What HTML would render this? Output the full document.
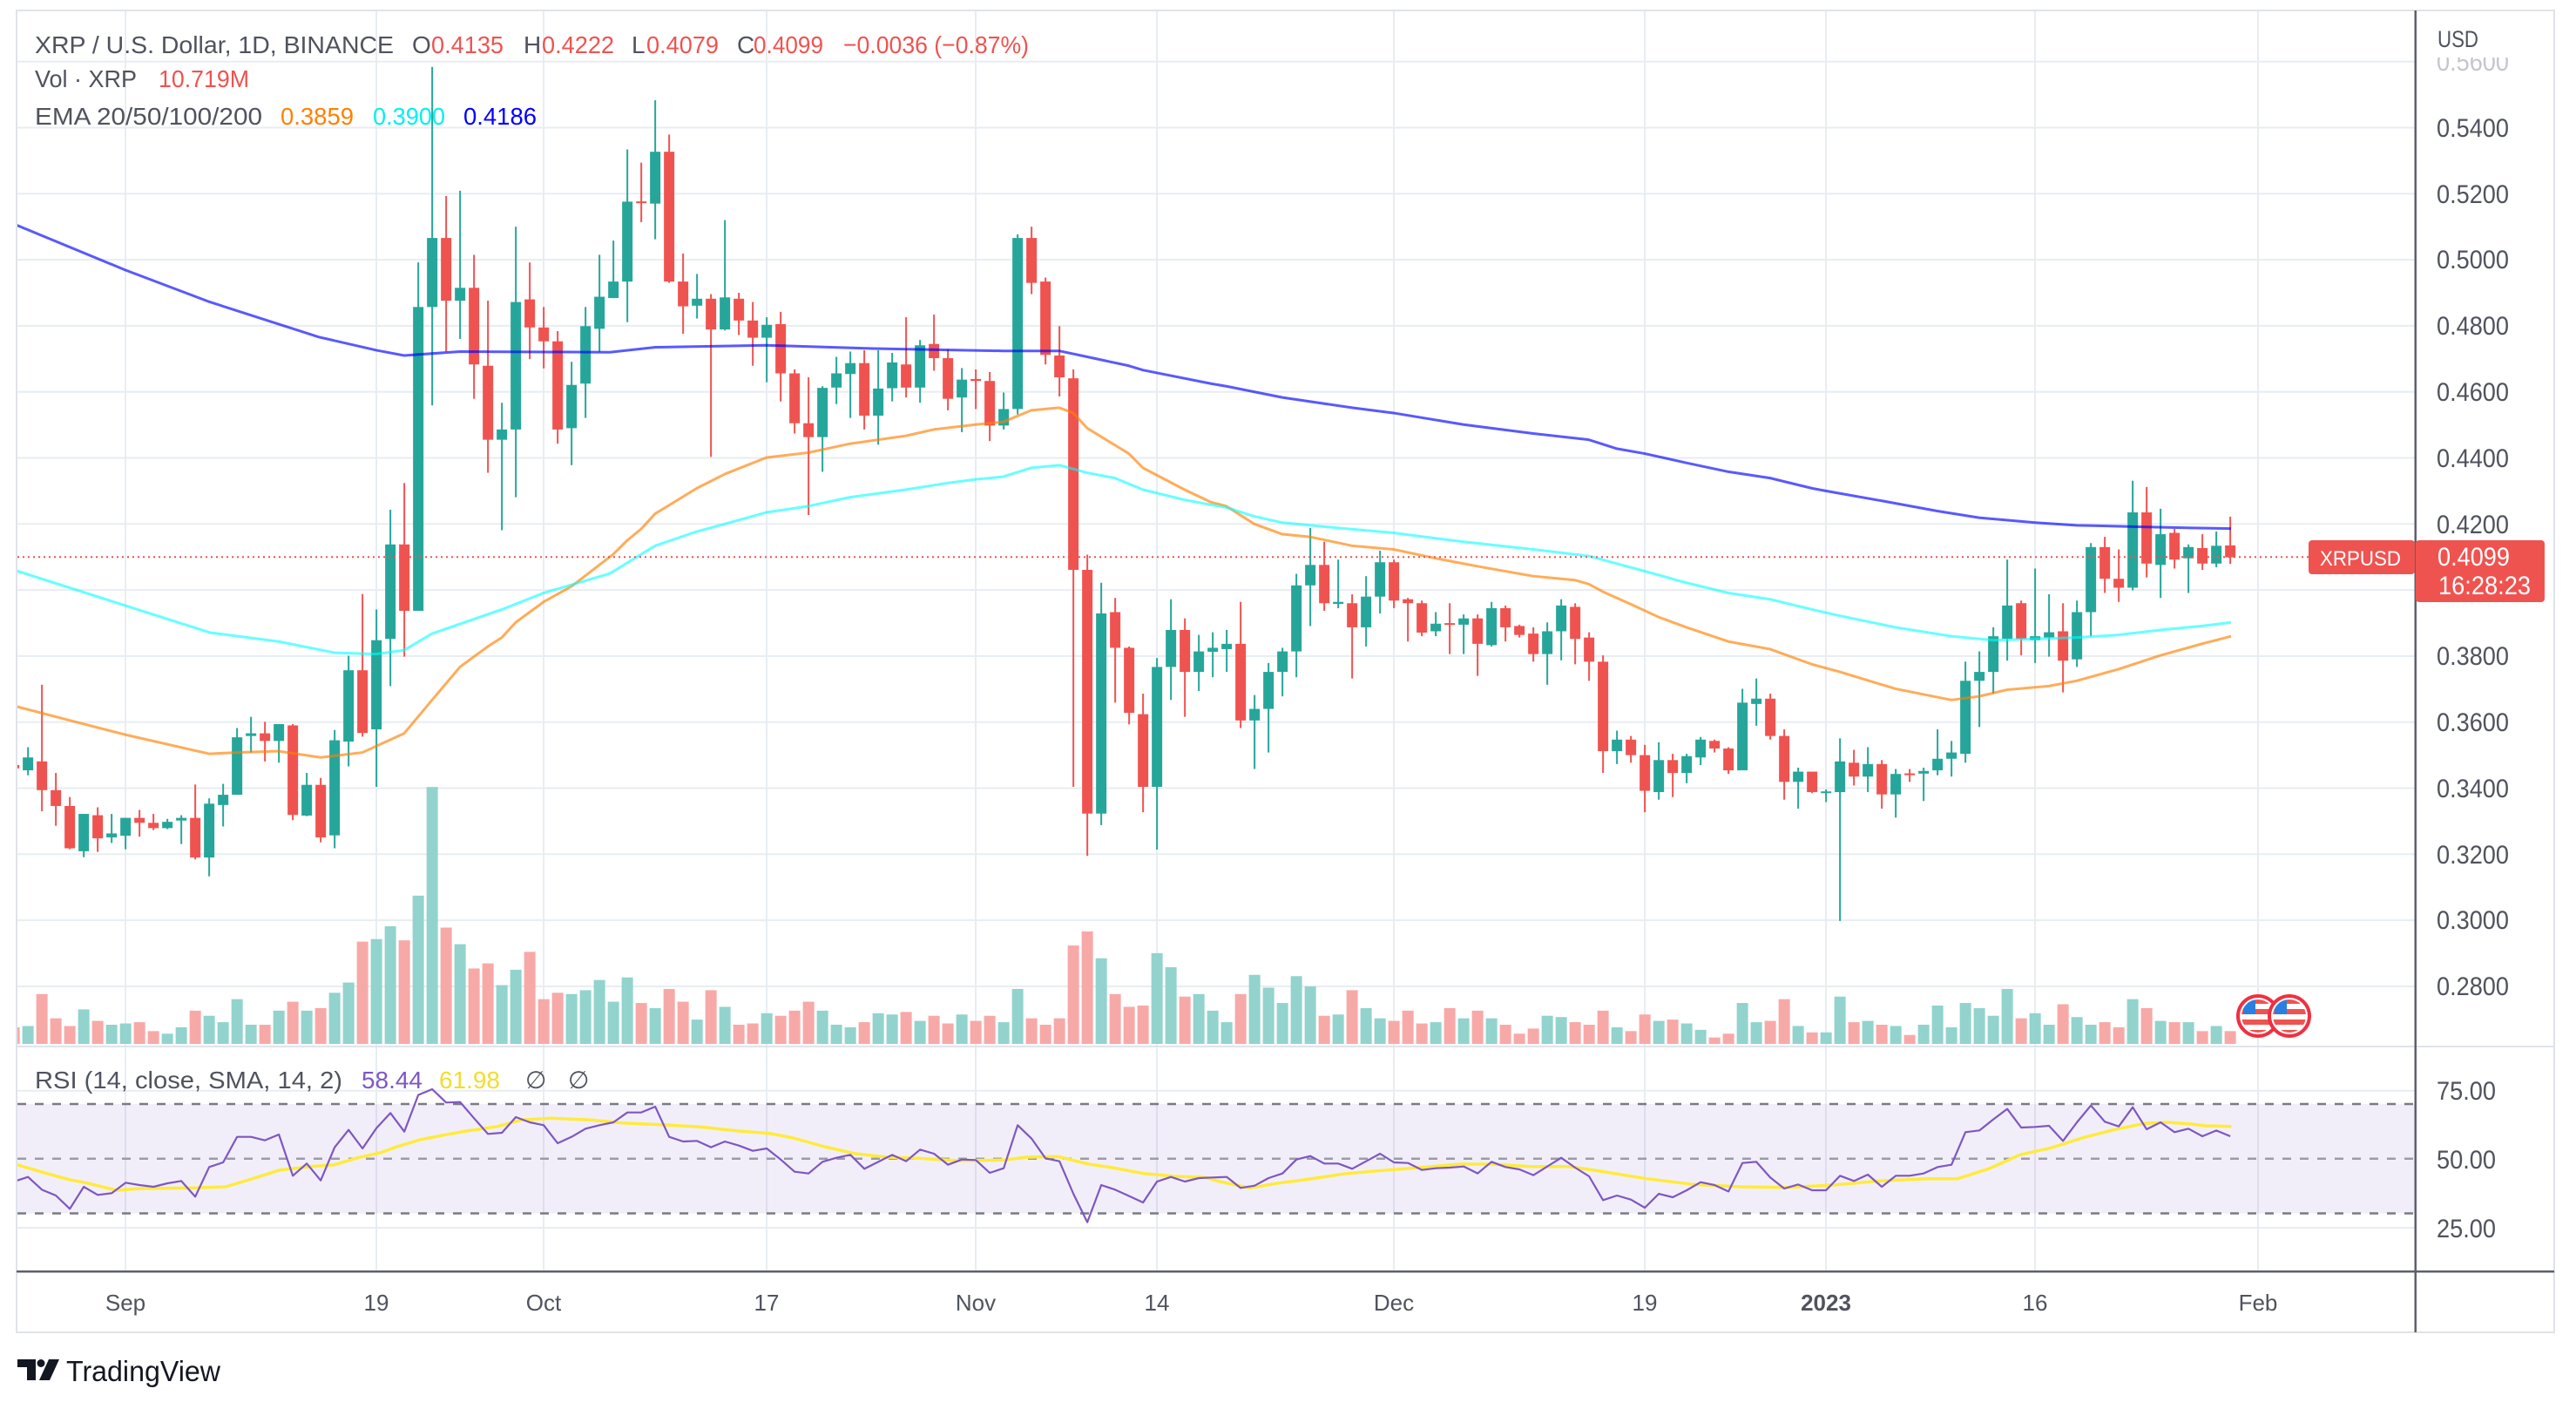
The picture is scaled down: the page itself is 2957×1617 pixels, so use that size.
<!DOCTYPE html>
<html><head><meta charset="utf-8"><style>
html,body{margin:0;padding:0;background:#fff;width:2957px;height:1617px;overflow:hidden}
svg{display:block}
text{font-family:"Liberation Sans",Arial,sans-serif}
</style></head><body>
<svg id="s" xmlns="http://www.w3.org/2000/svg" width="2957" height="1617" viewBox="0 0 2957 1617">
<defs>
<clipPath id="cp"><rect x="20" y="13" width="2752" height="1187"/></clipPath>
<clipPath id="cr"><rect x="20" y="1202" width="2752" height="256"/></clipPath>
<clipPath id="f1"><circle cx="2592" cy="1166" r="19"/></clipPath>
<clipPath id="f2"><circle cx="2628" cy="1166" r="19"/></clipPath>
<clipPath id="ctop"><rect x="2780" y="66" width="150" height="28"/></clipPath>
</defs>
<rect width="2957" height="1617" fill="#fff"/>
<g id="grid"></g>
<rect x="20" y="1267" width="2752" height="125.5" fill="#7e57c2" fill-opacity="0.1"/>
<g id="vol" clip-path="url(#cp)"></g>
<g id="cand" clip-path="url(#cp)"></g>
<g id="ema" clip-path="url(#cp)" fill="none" stroke-width="3" stroke-linejoin="round"></g>
<g id="rsi" clip-path="url(#cr)" fill="none" stroke-linejoin="round"></g>
<g id="frame"></g>

<!-- flags -->
<g>
<circle cx="2592" cy="1166" r="23" fill="#fff" stroke="#f0303f" stroke-width="4"/>
<g clip-path="url(#f1)"><rect x="2570" y="1144" width="44" height="44" fill="#fff"/><rect x="2570" y="1158" width="44" height="6" fill="#ef5350"/><rect x="2570" y="1170" width="44" height="6" fill="#ef5350"/><rect x="2570" y="1146" width="44" height="6" fill="#ef5350"/><rect x="2570" y="1182" width="44" height="6" fill="#ef5350"/><rect x="2575" y="1146" width="14" height="18" fill="#2a7fe0"/></g>
<circle cx="2628" cy="1166" r="23" fill="#fff" stroke="#f0303f" stroke-width="4"/>
<g clip-path="url(#f2)"><rect x="2606" y="1144" width="44" height="44" fill="#fff"/><rect x="2606" y="1158" width="44" height="6" fill="#ef5350"/><rect x="2606" y="1170" width="44" height="6" fill="#ef5350"/><rect x="2606" y="1146" width="44" height="6" fill="#ef5350"/><rect x="2606" y="1182" width="44" height="6" fill="#ef5350"/><rect x="2611" y="1146" width="14" height="18" fill="#2a7fe0"/></g>
</g>

<!-- price line labels -->
<rect x="2650" y="620" width="122" height="39" rx="4" fill="#ef5350"/>
<rect x="2773" y="620" width="148" height="71" rx="4" fill="#ef5350"/>
<text x="2663" y="649" font-size="24" fill="#fff" textLength="93" lengthAdjust="spacingAndGlyphs">XRPUSD</text>
<text x="2798" y="649" font-size="30" fill="#fff" textLength="83" lengthAdjust="spacingAndGlyphs">0.4099</text>
<text x="2799" y="682" font-size="30" fill="#fff" textLength="106" lengthAdjust="spacingAndGlyphs">16:28:23</text>

<!-- header legend -->
<g font-size="28">
<text x="40" y="61" fill="#50535e" textLength="412" lengthAdjust="spacingAndGlyphs">XRP / U.S. Dollar, 1D, BINANCE</text>
<text x="473" y="61" fill="#50535e">O</text>
<text x="495" y="61" fill="#ef5350" textLength="83" lengthAdjust="spacingAndGlyphs">0.4135</text>
<text x="601" y="61" fill="#50535e">H</text>
<text x="622" y="61" fill="#ef5350" textLength="83" lengthAdjust="spacingAndGlyphs">0.4222</text>
<text x="725" y="61" fill="#50535e">L</text>
<text x="742" y="61" fill="#ef5350" textLength="83" lengthAdjust="spacingAndGlyphs">0.4079</text>
<text x="846" y="61" fill="#50535e">C</text>
<text x="865" y="61" fill="#ef5350" textLength="80" lengthAdjust="spacingAndGlyphs">0.4099</text>
<text x="968" y="61" fill="#ef5350" textLength="213" lengthAdjust="spacingAndGlyphs">−0.0036 (−0.87%)</text>
<text x="40" y="100" fill="#50535e" textLength="117" lengthAdjust="spacingAndGlyphs">Vol · XRP</text>
<text x="182" y="100" fill="#ef5350" textLength="104" lengthAdjust="spacingAndGlyphs">10.719M</text>
<text x="40" y="143" fill="#50535e" textLength="261" lengthAdjust="spacingAndGlyphs">EMA 20/50/100/200</text>
<text x="322" y="143" fill="#ff8000" textLength="84" lengthAdjust="spacingAndGlyphs">0.3859</text>
<text x="428" y="143" fill="#00f0f0" textLength="83" lengthAdjust="spacingAndGlyphs">0.3900</text>
<text x="532" y="143" fill="#0000ff" textLength="84" lengthAdjust="spacingAndGlyphs">0.4186</text>
<text x="40" y="1249" fill="#50535e" textLength="353" lengthAdjust="spacingAndGlyphs">RSI (14, close, SMA, 14, 2)</text>
<text x="415" y="1249" fill="#7e57c2" textLength="70" lengthAdjust="spacingAndGlyphs">58.44</text>
<text x="504" y="1249" fill="#f2dc2e" textLength="70" lengthAdjust="spacingAndGlyphs">61.98</text>
<text x="603" y="1249" fill="#50535e">∅</text>
<text x="652" y="1249" fill="#50535e">∅</text>
</g>

<!-- price axis -->
<g font-size="30" fill="#50535e">
<text x="2798" y="54" font-size="27" textLength="47" lengthAdjust="spacingAndGlyphs">USD</text>
<g clip-path="url(#ctop)"><text x="2797" y="81" fill="#c4c6cc" textLength="83" lengthAdjust="spacingAndGlyphs">0.5600</text></g>
<text x="2797" y="157" textLength="83" lengthAdjust="spacingAndGlyphs">0.5400</text>
<text x="2797" y="233" textLength="83" lengthAdjust="spacingAndGlyphs">0.5200</text>
<text x="2797" y="308" textLength="83" lengthAdjust="spacingAndGlyphs">0.5000</text>
<text x="2797" y="384" textLength="83" lengthAdjust="spacingAndGlyphs">0.4800</text>
<text x="2797" y="460" textLength="83" lengthAdjust="spacingAndGlyphs">0.4600</text>
<text x="2797" y="536" textLength="83" lengthAdjust="spacingAndGlyphs">0.4400</text>
<text x="2797" y="612" textLength="83" lengthAdjust="spacingAndGlyphs">0.4200</text>
<text x="2797" y="763" textLength="83" lengthAdjust="spacingAndGlyphs">0.3800</text>
<text x="2797" y="839" textLength="83" lengthAdjust="spacingAndGlyphs">0.3600</text>
<text x="2797" y="915" textLength="83" lengthAdjust="spacingAndGlyphs">0.3400</text>
<text x="2797" y="991" textLength="83" lengthAdjust="spacingAndGlyphs">0.3200</text>
<text x="2797" y="1066" textLength="83" lengthAdjust="spacingAndGlyphs">0.3000</text>
<text x="2797" y="1142" textLength="83" lengthAdjust="spacingAndGlyphs">0.2800</text>
<text x="2797" y="1262" textLength="68" lengthAdjust="spacingAndGlyphs">75.00</text>
<text x="2797" y="1341" textLength="68" lengthAdjust="spacingAndGlyphs">50.00</text>
<text x="2797" y="1420" textLength="68" lengthAdjust="spacingAndGlyphs">25.00</text>
</g>

<!-- time axis -->
<g font-size="26" fill="#50535e" text-anchor="middle">
<text x="144" y="1504">Sep</text>
<text x="432" y="1504">19</text>
<text x="624" y="1504">Oct</text>
<text x="880" y="1504">17</text>
<text x="1120" y="1504">Nov</text>
<text x="1328" y="1504">14</text>
<text x="1600" y="1504">Dec</text>
<text x="1888" y="1504">19</text>
<text x="2096" y="1504" font-weight="bold">2023</text>
<text x="2336" y="1504">16</text>
<text x="2592" y="1504">Feb</text>
</g>

<!-- logo -->
<g fill="#131722">
<path d="M20 1560 H41 V1584 H31 V1569 H20 Z"/>
<circle cx="47" cy="1564.5" r="4.5"/>
<path d="M56 1560 H68 L57 1584 H45 Z"/>
<text x="76" y="1585" font-size="33" textLength="177" lengthAdjust="spacingAndGlyphs">TradingView</text>
</g>
</svg>
<script>
(function(){
var NS='http://www.w3.org/2000/svg';
function el(t,a,p){var e=document.createElementNS(NS,t);for(var k in a)e.setAttribute(k,a[k]);p.appendChild(e);return e;}
function cx(i){return 32.14+(i-1)*16;}
function py(p){return 146.5+(0.54-p)*3790;}
var G='#26a69a',R='#ef5350';
var gGrid=document.getElementById('grid'),gVol=document.getElementById('vol'),gC=document.getElementById('cand'),gE=document.getElementById('ema'),gR=document.getElementById('rsi'),gF=document.getElementById('frame');
for(var k=0;k<=14;k++){var y=py(0.56-0.02*k);el('rect',{x:20,y:y-1,width:2752,height:2,fill:'#e8edf2'},gGrid);}
[144,432,624,880,1120,1328,1600,1888,2096,2336,2592].forEach(function(x){el('rect',{x:x-1,y:13,width:2,height:1445,fill:'#e8edf2'},gGrid);});
el('rect',{x:20,y:1250.7,width:2752,height:2,fill:'#e8edf2'},gGrid);
el('rect',{x:20,y:1408,width:2752,height:2,fill:'#e8edf2'},gGrid);
var C=[[.347,.3475,.345,.346],[.3454,.3524,.3439,.3493],[.3481,.3713,.333,.3394],[.3394,.3446,.3286,.3346],[.3346,.3373,.3215,.3218],[.3209,.3322,.3191,.3322],[.3318,.3342,.3207,.3248],[.3251,.3322,.3234,.3263],[.3256,.3310,.3215,.3310],[.3310,.3334,.3253,.3295],
[.3295,.3322,.3273,.3279],[.3279,.3307,.3276,.3298],[.3302,.3318,.3231,.3310],[.3310,.3411,.3184,.3190],[.3190,.3369,.3133,.3353],[.3349,.3413,.3284,.3380],[.3380,.3582,.3380,.3554],[.3558,.3616,.3508,.3566],[.3566,.3601,.3481,.3543],[.3543,.3594,.3477,.3594],
[.3590,.3594,.3303,.3319],[.3317,.3446,.3315,.3410],[.3410,.3431,.3236,.3251],[.3257,.3576,.3218,.3545],[.3541,.3801,.3466,.3757],[.3757,.3988,.3556,.3567],[.3578,.3941,.3404,.3848],[.3852,.4243,.3709,.4138],[.4138,.4324,.3798,.3937],[.3937,.4992,.3937,.4857],
[.4857,.5584,.4559,.5066],[.5066,.5193,.4722,.4876],[.4876,.5209,.4760,.4915],[.4915,.5015,.4579,.4683],[.4679,.4876,.4355,.4455],[.4455,.4567,.4181,.4486],[.4486,.5100,.4281,.4872],[.4880,.4992,.4699,.4795],[.4795,.4857,.4671,.4753],[.4753,.4784,.4443,.4486],
[.4490,.4691,.4378,.4621],[.4625,.4857,.4521,.4799],[.4791,.5015,.4722,.4888],[.4884,.5058,.4884,.4934],[.4934,.5334,.4811,.5176],[.5176,.5294,.5114,.5172],[.5170,.5483,.5062,.5327],[.5327,.5379,.4930,.4934],[.4934,.5019,.4776,.4859],[.4861,.4957,.4822,.4882],
[.4882,.4896,.4403,.4789],[.4789,.5120,.4786,.4886],[.4882,.4900,.4772,.4816],[.4816,.4872,.4679,.4764],[.4764,.4826,.4629,.4803],[.4805,.4842,.4571,.4656],[.4656,.4668,.4474,.4505],[.4505,.4644,.4227,.4463],[.4463,.4617,.4358,.4612],[.4613,.4706,.4563,.4656],
[.4654,.4722,.4521,.4687],[.4687,.4726,.4486,.4528],[.4528,.4726,.4440,.4610],[.4611,.4718,.4571,.4689],[.4683,.4826,.4583,.4613],[.4613,.4757,.4567,.4741],[.4745,.4834,.4664,.4702],[.4702,.4729,.4544,.4579],[.4583,.4672,.4478,.4637],[.4639,.4668,.4548,.4633],
[.4633,.4660,.4451,.4498],[.4498,.4598,.4486,.4548],[.4548,.5077,.4532,.5066],[.5066,.5100,.4896,.4930],[.4934,.4946,.4683,.4712],[.4710,.4799,.4586,.4644],[.4641,.4668,.3404,.4061],[.4061,.4107,.3195,.3323],[.3323,.4022,.3288,.3929],[.3933,.3976,.3659,.3825],
[.3825,.3829,.3593,.3628],[.3624,.3686,.3327,.3404],[.3404,.3794,.3214,.3767],[.3767,.3972,.3667,.3879],[.3879,.3914,.3616,.3752],[.3752,.3864,.3694,.3814],[.3813,.3872,.3736,.3825],[.3821,.3879,.3752,.3837],[.3837,.3964,.3582,.3605],[.3605,.3682,.3458,.3640],
[.3640,.3779,.3508,.3752],[.3752,.3825,.3678,.3814],[.3814,.4049,.3736,.4014],[.4014,.4188,.3891,.4076],[.4076,.4146,.3937,.3960],[.3958,.4092,.3945,.3964],[.3960,.3987,.3732,.3887],[.3887,.4042,.3829,.3980],[.3980,.4119,.3929,.4084],[.4084,.4092,.3945,.3968],
[.3972,.3976,.3844,.3960],[.3960,.3968,.3860,.3871],[.3875,.3933,.3860,.3898],[.3899,.3960,.3806,.3895],[.3895,.3926,.3806,.3914],[.3914,.3926,.3740,.3837],[.3833,.3964,.3829,.3945],[.3945,.3953,.3844,.3887],[.3891,.3895,.3856,.3864],[.3868,.3887,.3783,.3806],
[.3806,.3902,.3713,.3875],[.3875,.3972,.3787,.3953],[.3949,.3960,.3775,.3852],[.3856,.3872,.3725,.3783],[.3783,.3802,.3446,.3512],[.3512,.3574,.3473,.3547],[.3547,.3558,.3477,.3500],[.3500,.3531,.3327,.3392],[.3388,.3539,.3365,.3485],[.3485,.3504,.3373,.3446],
[.3446,.3504,.3415,.3497],[.3493,.3555,.3470,.3547],[.3543,.3547,.3508,.3520],[.3520,.3524,.3443,.3454],[.3454,.3701,.3454,.3659],[.3655,.3732,.3589,.3671],[.3671,.3686,.3547,.3558],[.3558,.3578,.3365,.3419],[.3419,.3462,.3338,.3450],[.3450,.3450,.3385,.3388],
[.3385,.3396,.3358,.3390],[.3388,.3551,.2998,.3481],[.3477,.3516,.3408,.3435],[.3435,.3524,.3388,.3473],[.3473,.3485,.3338,.3381],[.3381,.3458,.3311,.3443],[.3444,.3458,.3419,.3440],[.3444,.3462,.3361,.3452],[.3454,.3578,.3439,.3489],[.3489,.3543,.3435,.3508],
[.3504,.3783,.3477,.3725],[.3725,.3814,.3585,.3752],[.3752,.3887,.3686,.3860],[.3852,.4092,.3786,.3953],[.3960,.3968,.3802,.3852],[.3848,.4065,.3779,.3860],[.3856,.3987,.3798,.3872],[.3875,.3960,.3690,.3786],[.3790,.3968,.3767,.3933],[.3933,.4142,.3860,.4130],
[.4130,.4161,.3991,.4034],[.4034,.4123,.3964,.4007],[.4007,.4331,.3999,.4235],[.4235,.4312,.4038,.4080],[.4076,.4246,.3976,.4169],[.4173,.4185,.4065,.4092],[.4096,.4138,.3991,.4130],[.4127,.4169,.4061,.4080],[.4080,.4177,.4069,.4134],[.4135,.4222,.4079,.4099]];
var V=[26,28,78,40,28,54,36,30,32,34,20,16,26,52,44,34,70,30,30,52,66,52,56,80,96,160,164,184,162,232,402,182,156,118,126,92,116,144,70,80,78,84,100,66,104,64,56,86,66,38,84,58,30,32,48,44,52,66,52,30,26,34,48,46,50,36,44,32,46,36,44,34,86,40,30,40,154,176,134,78,58,60,142,120,74,78,52,34,78,108,88,64,106,90,44,46,84,56,40,36,52,32,34,56,40,52,40,30,16,24,44,42,34,30,52,26,20,46,36,38,32,22,10,16,64,34,36,70,28,18,18,74,34,36,30,28,14,30,60,26,64,56,44,86,40,48,30,62,42,30,34,26,70,56,36,34,34,20,28,20];
var RS=[468,452,496,516,562,486,514,508,472,480,486,474,466,520,418,402,314,314,326,306,448,406,464,350,290,354,284,232,296,170,150,196,194,250,304,300,246,264,274,336,314,286,274,264,230,230,210,314,330,328,350,330,344,362,354,392,434,440,400,386,376,424,400,376,398,358,372,410,392,394,438,422,274,320,388,398,510,608,480,496,518,540,468,452,468,456,
454,452,490,482,456,440,392,380,406,406,424,398,372,402,404,428,422,420,416,440,400,418,426,446,416,386,420,450,532,516,530,558,510,522,498,470,480,502,404,400,454,492,478,498,498,448,466,444,486,448,448,440,418,410,298,292,254,218,282,280,276,328,264,206,262,278,212,288,264,298,286,312,292,312];
for(var i=0;i<C.length;i++){var c=C[i],up=c[3]>=c[0],h=V[i]*0.7334;el('rect',{x:cx(i)-6.5,y:1198-h,width:13,height:h,fill:up?'#92d3cd':'#f7a9a8'},gVol);}
for(var i=0;i<C.length;i++){var c=C[i],up=c[3]>=c[0],col=up?G:R,x=cx(i);
var yh=py(c[1]),yl=py(c[2]);el('rect',{x:x-1,y:yh,width:2,height:Math.max(1,yl-yh),fill:col},gC);
var t=py(Math.max(c[0],c[3])),b=py(Math.min(c[0],c[3]));var hh=Math.max(2,b-t);el('rect',{x:x-6,y:t-(hh-(b-t))/2,width:12,height:hh,fill:col},gC);}
function pl(arr,col,op){el('polyline',{points:arr.map(function(a){return a[0]+','+py(a[1]);}).join(' '),stroke:col,'stroke-opacity':op},gE);}
var BL=[[18,0.5106],[143.8,0.4969],[241,0.4872],[366,0.4766],[432,0.4726],[464,0.4710],[528,0.4722],[700,0.4720],[752.5,0.4735],[879.7,0.4741],[1002.5,0.4731],[1151.6,0.4724],[1215.9,0.4724],[1248,0.4706],[1295.8,0.4679],[1311.9,0.4666],[1390,0.4625],[1407.7,0.4617],[1472,0.4583],[1551.9,0.4552],[1599.6,0.4536],[1680,0.4501],[1759.9,0.4474],[1823.8,0.4455],[1855.9,0.4428],[1888,0.4413],[1935.8,0.4385],[1984,0.4358],[2031.8,0.4339],[2080,0.4308],[2095.9,0.4300],[2160.2,0.4270],[2224,0.4239],[2271.8,0.4219],[2336,0.4204],[2383.8,0.4196],[2447.7,0.4192],[2516.4,0.4188],[2561,0.4186]];
var CY=[[18,0.4059],[143.8,0.3953],[241,0.3871],[320,0.3844],[384.4,0.3810],[432,0.3806],[464,0.3818],[496,0.3868],[576,0.3941],[624,0.3991],[700,0.4050],[752.1,0.4134],[799.8,0.4177],[832,0.4200],[879.7,0.4235],[928,0.4254],[975.7,0.4281],[1040,0.4304],[1087.8,0.4324],[1119.9,0.4335],[1151.6,0.4343],[1183.8,0.4370],[1215.9,0.4378],[1248,0.4355],[1279.7,0.4339],[1311.9,0.4304],[1359.6,0.4273],[1390,0.4258],[1407.7,0.4250],[1439.8,0.4223],[1472,0.4204],[1535.8,0.4188],[1599.6,0.4173],[1680,0.4146],[1759.9,0.4123],[1823.8,0.4103],[1855.9,0.4080],[1888,0.4057],[1935.8,0.4022],[1984,0.3991],[2031.8,0.3972],[2080,0.3941],[2112,0.3922],[2175.8,0.3887],[2240,0.3860],[2287.9,0.3848],[2336,0.3852],[2383.8,0.3856],[2431.6,0.3864],[2479.8,0.3879],[2527.6,0.3891],[2561,0.3902]];
var OR=[[18,0.3648],[80.4,0.3605],[143.8,0.3562],[240,0.3504],[272,0.3508],[320,0.3512],[368,0.3493],[416,0.3508],[464,0.3566],[496,0.3667],[528,0.3767],[560,0.3829],[576,0.3856],[592,0.3902],[624,0.3964],[656,0.4011],[688,0.4076],[703.4,0.4107],[719.9,0.4150],[736,0.4185],[752,0.4231],[799.8,0.4308],[832,0.4351],[879.7,0.4401],[928,0.4416],[975.7,0.4443],[1040,0.4467],[1071.7,0.4486],[1119.9,0.4501],[1151.6,0.4509],[1183.8,0.4544],[1215.9,0.4552],[1232,0.4536],[1248,0.4490],[1295.8,0.4413],[1311.9,0.4370],[1359.6,0.4304],[1390,0.4266],[1407.7,0.4254],[1439.8,0.4200],[1472,0.4169],[1503.7,0.4161],[1551.9,0.4134],[1599.6,0.4123],[1647.9,0.4096],[1695.6,0.4072],[1759.9,0.4042],[1807.7,0.4030],[1823.8,0.4018],[1839.8,0.3995],[1872,0.3957],[1904,0.3918],[1935.8,0.3887],[1984,0.3844],[2031.8,0.3821],[2080,0.3775],[2112,0.3752],[2175.8,0.3701],[2240,0.3667],[2271.8,0.3678],[2303.9,0.3698],[2351.7,0.3709],[2383.8,0.3725],[2431.6,0.3760],[2479.8,0.3802],[2527.6,0.3837],[2561,0.3860]];
pl(OR,'#ff8000',0.65);pl(CY,'#00ffff',0.6);pl(BL,'#0000ff',0.65);
el('line',{x1:20,y1:639.2,x2:2650,y2:639.2,stroke:'#ef5350','stroke-width':2,'stroke-dasharray':'2 4'},gE.parentNode);
el('line',{x1:20,y1:1267,x2:2772,y2:1267,stroke:'#787b86','stroke-width':2.5,'stroke-dasharray':'10 10'},gR);
el('line',{x1:20,y1:1329.7,x2:2772,y2:1329.7,stroke:'#9a9ca5','stroke-width':2.5,'stroke-dasharray':'10 10'},gR);
el('line',{x1:20,y1:1392.5,x2:2772,y2:1392.5,stroke:'#787b86','stroke-width':2.5,'stroke-dasharray':'10 10'},gR);
var YL=[[19.6,1336.7],[53.6,1346.7],[80.4,1354],[98.2,1357.3],[133.9,1366],[160.7,1364],[223.2,1363.3],[258.9,1362],[285.7,1354],[321.4,1342.7],[357.1,1338.7],[383.9,1336.7],[410.7,1328.7],[437.5,1322.7],[455.4,1316],[482.1,1308],[508.9,1302.7],[535.7,1298],[571.4,1292.7],[598.2,1285.3],[633.9,1283.3],[678.6,1285.3],[714.3,1288.7],[758.9,1290.7],[803.6,1293.3],[848.2,1298],[883.9,1300.7],[910.7,1306],[946.4,1316],[982.1,1324],[1017.9,1328],[1053.6,1329.3],[1098.2,1332],[1151.8,1331.3],[1178.6,1328],[1214.3,1327.3],[1250,1336],[1276.8,1340],[1312.5,1346.7],[1348.2,1350],[1383.9,1351.3],[1400,1356],[1434.6,1363.3],[1470.4,1357.3],[1497.1,1354],[1541.8,1347.3],[1577.5,1344],[1613.2,1341.3],[1675.7,1336],[1711.4,1336],[1756.1,1338.7],[1800.7,1338.7],[1836.4,1344],[1890,1352.7],[1943.6,1359.3],[1997.1,1362],[2050.7,1362.7],[2104.3,1360],[2157.9,1355.3],[2211.4,1352.7],[2247.1,1352.7],[2282.9,1341.3],[2318.6,1325.3],[2354.3,1317.3],[2390,1306],[2425.7,1296.7],[2461.4,1289.3],[2488.2,1288],[2515,1290],[2532.9,1292],[2561.4,1292.7]];
el('polyline',{points:YL.map(function(a){return a[0]+','+a[1];}).join(' '),stroke:'#ffeb3b','stroke-width':3.5},gR);
var rp=[];for(var i=0;i<RS.length;i++){rp.push(cx(i)+','+(1200+RS[i]/3));}
el('polyline',{points:rp.join(' '),stroke:'#7e57c2','stroke-width':2.2},gR);
el('rect',{x:19,y:12,width:2913,height:1517,fill:'none',stroke:'#e0e3eb','stroke-width':2},gF);
el('rect',{x:19,y:1200,width:2913,height:2,fill:'#e0e3eb'},gF);
el('rect',{x:19,y:1458,width:2913,height:2.5,fill:'#5d606b'},gF);
el('rect',{x:2771.5,y:12,width:2.5,height:1517,fill:'#5d606b'},gF);
})();
</script>
</body></html>
